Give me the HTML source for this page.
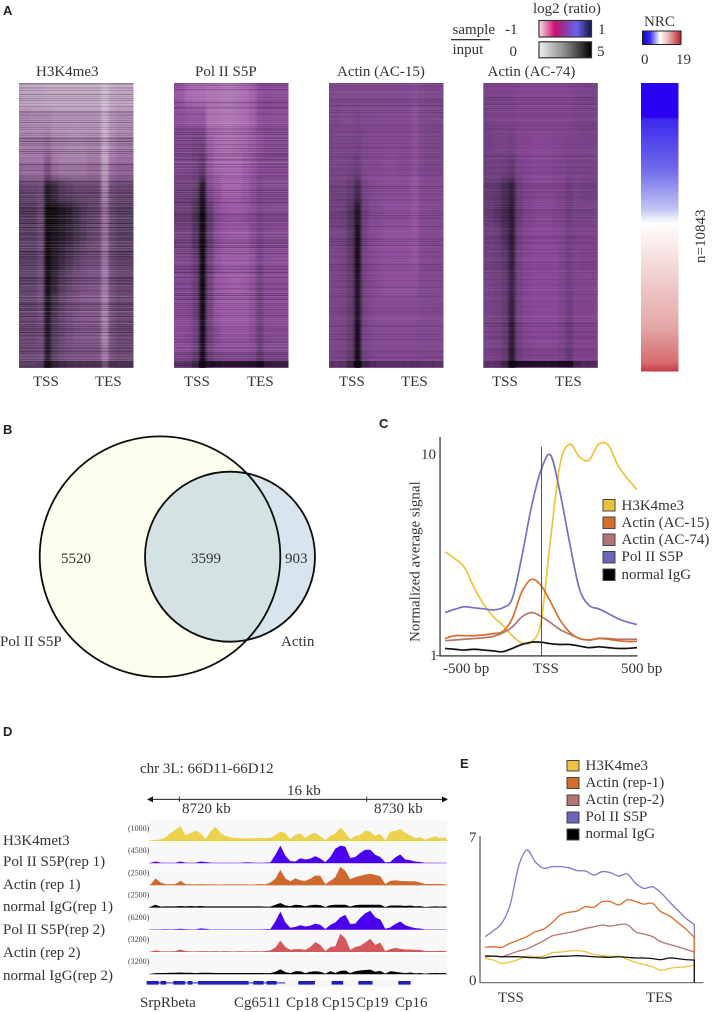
<!DOCTYPE html>
<html lang="en">
<head>
<meta charset="utf-8">
<title>Actin and Pol II genomic profiles</title>
<style>
html,body{margin:0;padding:0;background:#fff;}
svg{display:block;}
text{font-family:"Liberation Serif",serif;font-size:15px;fill:#333;}
.panel{font-family:"Liberation Sans",sans-serif;font-weight:bold;font-size:13px;fill:#222;}
.rng{font-size:8px;fill:#444;}
</style>
</head>
<body>
<svg id="fig" xmlns="http://www.w3.org/2000/svg" width="714" height="1012" viewBox="0 0 714 1012">
<defs>
<filter id="hmBlur" x="-20" y="-20" width="160" height="330" filterUnits="userSpaceOnUse"><feGaussianBlur stdDeviation="1.4 4"/></filter>
<clipPath id="hmClip"><rect x="0" y="0" width="114.5" height="285"/></clipPath>
<linearGradient id="ratioGrad"><stop offset="0" stop-color="#f6e0ee"/><stop offset=".3" stop-color="#cc1170"/><stop offset=".5" stop-color="#8a3aa0"/><stop offset=".72" stop-color="#6a62ee"/><stop offset="1" stop-color="#14143c"/></linearGradient>
<linearGradient id="inputGrad"><stop offset="0" stop-color="#f0f0f0"/><stop offset=".5" stop-color="#888"/><stop offset="1" stop-color="#000"/></linearGradient>
<linearGradient id="nrcSmall"><stop offset="0" stop-color="#1400d8"/><stop offset=".2" stop-color="#3a30e8"/><stop offset=".45" stop-color="#fff"/><stop offset=".7" stop-color="#e8aaaa"/><stop offset="1" stop-color="#c01a22"/></linearGradient>
<linearGradient id="nrcBig" x1="0" y1="0" x2="0" y2="1"><stop offset="0" stop-color="#2a00f2"/><stop offset=".118" stop-color="#2a00f2"/><stop offset=".125" stop-color="#3c28ee"/><stop offset=".3" stop-color="#6f6bea"/><stop offset=".44" stop-color="#c4c6f4"/><stop offset=".47" stop-color="#eceefc"/><stop offset=".49" stop-color="#fff"/><stop offset=".51" stop-color="#fdf8f6"/><stop offset=".66" stop-color="#f1d2d2"/><stop offset=".85" stop-color="#e4a6a6"/><stop offset=".97" stop-color="#d56a6e"/><stop offset="1" stop-color="#c63a44"/></linearGradient>
</defs>

<!-- PANEL A -->
<text class="panel" x="3" y="15">A</text>
<g>
<text x="36" y="76">H3K4me3</text>
<text x="195" y="76">Pol II S5P</text>
<text x="337" y="76">Actin (AC-15)</text>
<text x="487.5" y="76">Actin (AC-74)</text>
</g>
<g id="heatmaps"></g>
<g>
<text x="33" y="386">TSS</text><text x="95" y="386">TES</text>
<text x="184" y="386">TSS</text><text x="247" y="386">TES</text>
<text x="339" y="386">TSS</text><text x="401" y="386">TES</text>
<text x="492" y="386">TSS</text><text x="555" y="386">TES</text>
</g>
<g>
<text x="533" y="13">log2 (ratio)</text>
<text x="452.5" y="34">sample</text>
<rect x="451" y="39" width="39" height="1.3" fill="#333"/>
<text x="452.5" y="54">input</text>
<text x="505" y="34">-1</text>
<text x="509.5" y="56">0</text>
<text x="598" y="34">1</text>
<text x="597" y="56">5</text>
<rect x="539" y="20.5" width="52.5" height="16.5" fill="url(#ratioGrad)" stroke="#333" stroke-width="1.2"/>
<rect x="539" y="41.8" width="52.5" height="16" fill="url(#inputGrad)" stroke="#333" stroke-width="1.2"/>
</g>
<g>
<text x="644" y="26">NRC</text>
<rect x="642.5" y="31" width="38.5" height="13.5" fill="url(#nrcSmall)" stroke="#222" stroke-width="1"/>
<text x="641" y="64">0</text>
<text x="676" y="64">19</text>
<rect x="641" y="83" width="37.5" height="288.5" fill="url(#nrcBig)"/>
<text transform="translate(705,263) rotate(-90)" x="0" y="0">n=10843</text>
</g>

<!-- PANEL B -->
<text class="panel" x="3" y="434">B</text>
<g>
<circle cx="160" cy="556.7" r="120.3" fill="#fefeee"/>
<circle cx="230" cy="556.7" r="85" fill="#d8e4ee"/>
<path d="M246.8 473.4 A120.3 120.3 0 0 1 246.8 640 A85 85 0 1 1 246.8 473.4 Z" fill="#d5e2e3"/>
<circle cx="160" cy="556.7" r="120.3" fill="none" stroke="#0c0c0c" stroke-width="1.8"/>
<circle cx="230" cy="556.7" r="85" fill="none" stroke="#0c0c0c" stroke-width="1.8"/>
<text x="61" y="563">5520</text>
<text x="191" y="563">3599</text>
<text x="285" y="563">903</text>
<text x="0" y="646">Pol II S5P</text>
<text x="281" y="646">Actin</text>
</g>

<!-- PANEL C -->
<text class="panel" x="379" y="428">C</text>
<g id="chartC">
<rect x="439.3" y="437" width="1.5" height="219.5" fill="#555"/>
<rect x="440" y="655.2" width="197.5" height="1.4" fill="#444"/>
<rect x="436" y="655.2" width="4" height="1" fill="#555"/>
<text transform="translate(419.5,642) rotate(-90)" x="0" y="0">Normalized average signal</text>
<text x="421" y="459">10</text>
<text x="430" y="660">1</text>
<text x="443" y="673">-500 bp</text>
<text x="533" y="673">TSS</text>
<text x="621" y="673">500 bp</text>
</g>
<g>
<rect x="603" y="499.5" width="12" height="11.5" fill="#eac43f" stroke="#444"/><text x="621.5" y="510">H3K4me3</text>
<rect x="603" y="517" width="12" height="11.5" fill="#d66d2b" stroke="#444"/><text x="621.5" y="527">Actin (AC-15)</text>
<rect x="603" y="534" width="12" height="11.5" fill="#b27570" stroke="#444"/><text x="621.5" y="544">Actin (AC-74)</text>
<rect x="603" y="551.5" width="12" height="11.5" fill="#6a66bc" stroke="#444"/><text x="621.5" y="561">Pol II S5P</text>
<rect x="603" y="569" width="12" height="11.5" fill="#000" stroke="#444"/><text x="621.5" y="579">normal IgG</text>
</g>

<!-- PANEL D -->
<text class="panel" x="3" y="736">D</text>
<g id="tracks">
<text x="140" y="773">chr 3L: 66D11-66D12</text>
<text x="287" y="795">16 kb</text>
<text x="182" y="813">8720 kb</text>
<text x="374" y="813">8730 kb</text>
<line x1="150" y1="799.4" x2="445" y2="799.4" stroke="#222"/>
<path d="M147 799.4l6-3v6z" fill="#111"/>
<path d="M448 799.4l-6-3v6z" fill="#111"/>
<line x1="179.3" y1="796.5" x2="179.3" y2="802" stroke="#333"/>
<line x1="366.7" y1="796.5" x2="366.7" y2="802" stroke="#333"/>
<text x="3" y="845">H3K4met3</text>
<text x="3" y="866">Pol II S5P(rep 1)</text>
<text x="3" y="889">Actin (rep 1)</text>
<text x="3" y="911">normal IgG(rep 1)</text>
<text x="3" y="934">Pol II S5P(rep 2)</text>
<text x="3" y="957">Actin (rep 2)</text>
<text x="3" y="980">normal IgG(rep 2)</text>
<text x="140" y="1007">SrpRbeta</text>
<text x="234" y="1007">Cg6511</text>
<text x="286" y="1007">Cp18</text>
<text x="322" y="1007">Cp15</text>
<text x="356" y="1007">Cp19</text>
<text x="395" y="1007">Cp16</text>
</g>

<!-- PANEL E -->
<text class="panel" x="460" y="768">E</text>
<g>
<rect x="567" y="760.5" width="12" height="10.5" fill="#eac43f" stroke="#444"/><text x="585.5" y="770">H3K4me3</text>
<rect x="567" y="777.5" width="12" height="11" fill="#d66d2b" stroke="#444"/><text x="585.5" y="787">Actin (rep-1)</text>
<rect x="567" y="795" width="12" height="10.5" fill="#b27570" stroke="#444"/><text x="585.5" y="804">Actin (rep-2)</text>
<rect x="567" y="812" width="12" height="11" fill="#6a66bc" stroke="#444"/><text x="585.5" y="821">Pol II S5P</text>
<rect x="567" y="829" width="12" height="11" fill="#000" stroke="#444"/><text x="585.5" y="838">normal IgG</text>
</g>
<g id="chartE">
<rect x="479.5" y="836" width="1" height="147" fill="#333"/>
<rect x="479.5" y="982.2" width="224" height="1" fill="#555"/>
<text x="469" y="842">7</text>
<text x="469" y="985">0</text>
<text x="498" y="1002">TSS</text>
<text x="646" y="1002">TES</text>
</g>
</svg>

<script>
var NS = 'http://www.w3.org/2000/svg';

/* ---------- Panel A heatmap data: darkness 0-100, 12 row bands x 16 position bins ---------- */
var heatH3K4me3 = [
[22,20,20,20,18,18,18,18,18,18,18,18,12,18,20,20],
[30,30,28,28,28,25,25,25,25,25,25,25,15,25,28,28],
[35,35,35,35,38,32,32,30,30,30,32,32,18,30,35,35],
[40,38,38,38,50,38,35,35,35,35,38,38,22,38,42,42],
[62,60,60,55,85,78,70,65,60,60,58,58,30,55,60,60],
[72,72,72,62,98,95,90,85,78,72,68,65,40,62,70,70],
[68,68,68,58,95,90,85,80,75,70,62,60,38,60,68,68],
[68,68,68,58,95,85,78,72,65,60,55,55,36,58,65,65],
[65,65,65,55,92,80,70,62,56,52,50,50,34,55,62,62],
[62,62,62,55,90,72,62,55,50,48,48,48,32,52,60,60],
[60,60,60,55,85,68,58,52,48,48,48,48,30,52,60,60],
[60,60,60,56,86,66,58,54,52,52,52,52,36,54,60,60]];
var heatPolII = [
[48,46,40,38,38,36,36,34,34,36,38,42,50,52,50,50],
[50,50,48,48,48,36,36,34,34,36,38,42,50,52,50,50],
[55,55,55,58,60,42,38,36,36,38,40,44,48,52,52,52],
[55,55,55,58,68,45,40,38,38,38,42,46,52,52,52,52],
[62,62,62,68,90,55,48,42,42,42,45,50,58,55,55,55],
[65,65,65,75,98,70,52,48,46,46,48,52,58,55,55,55],
[60,60,60,72,98,68,50,46,45,45,45,50,58,52,52,52],
[56,56,56,66,98,62,48,44,44,44,44,48,58,50,50,50],
[54,54,54,64,97,60,46,44,42,42,44,48,60,50,50,50],
[52,52,54,64,95,60,46,44,44,44,44,48,60,50,50,50],
[50,50,52,62,92,62,50,46,46,46,46,50,64,52,52,52],
[52,52,54,64,92,62,52,50,50,50,50,52,66,54,54,54]];
var heatAC15 = [
[57,55,55,55,55,55,55,55,55,55,55,55,51,55,57,57],
[57,57,55,55,57,55,55,53,53,53,55,53,49,55,57,57],
[59,57,57,57,59,55,53,53,53,53,53,53,49,55,57,57],
[59,57,57,59,63,55,53,53,51,51,53,53,49,55,57,57],
[61,61,61,67,77,59,55,53,51,51,51,51,47,53,55,55],
[63,63,65,73,90,63,55,53,51,51,51,51,47,53,55,55],
[59,59,61,71,93,61,53,51,49,49,49,49,47,53,55,55],
[57,57,59,69,93,59,53,51,49,49,49,49,47,53,55,55],
[57,57,59,67,90,59,53,51,49,49,49,49,49,53,55,55],
[57,57,59,67,90,59,53,51,51,51,51,51,51,53,55,55],
[57,57,59,67,93,59,55,53,53,53,53,53,53,55,55,55],
[57,57,59,68,94,60,55,53,53,53,53,53,53,55,55,55]];
var heatAC74 = [
[60,60,58,58,58,56,56,56,56,56,56,56,56,58,60,60],
[62,60,58,58,58,56,56,56,56,56,56,56,56,58,60,60],
[62,62,60,60,62,56,56,54,54,54,56,56,58,58,60,60],
[64,62,62,64,68,58,56,54,54,54,56,56,60,58,60,60],
[68,68,70,76,82,64,58,56,54,54,56,58,64,60,62,62],
[68,68,72,78,85,66,58,56,54,54,56,58,64,60,60,60],
[64,64,66,74,84,62,56,54,52,52,54,56,62,58,58,58],
[62,62,64,70,82,60,54,52,52,52,52,56,62,56,58,58],
[60,60,62,68,80,60,54,52,52,52,52,56,62,56,56,56],
[60,60,62,68,82,60,54,52,52,52,52,56,64,56,56,56],
[60,60,62,68,84,62,56,54,54,54,54,58,66,58,58,58],
[60,60,62,68,86,64,58,56,56,56,56,60,68,58,58,58]];
/* bottom strip of each heatmap: darkness-strength 0-100 per position bin */
var edgeH3K4me3 = [20,20,20,30,60,55,50,45,45,45,45,45,35,45,40,40];
var edgePolII = [35,35,35,50,80,80,78,76,76,76,78,80,85,65,60,60];
var edgeAC15 = [25,25,25,40,80,50,40,35,35,35,35,35,35,30,30,30];
var edgeAC74 = [25,25,25,40,85,85,82,80,80,80,82,84,85,50,40,40];
/* row-to-row streak signal (per gene band) */
var streakPattern = [-6,3,-2,7,-9,1,4,-3,8,-5,2,-8,5,-1,6,-7,3,-4,9,-2,-6,4,1,-9,7,-3,2,5,-7,-1,8,-4,3,-6,2];

/* ---------- Panel C data: normalized signal on a shared bp grid ---------- */
var cPositions = [-500,-450,-400,-350,-300,-250,-200,-150,-100,-50,0,50,100,150,200,250,300,350,400,450,500];
var cH3K4me3 = [3.27,3.03,2.75,2.19,1.81,1.57,1.42,1.26,1.16,1.17,1.47,3.80,8.92,11.1,9.62,9.27,11.1,11.0,8.76,7.52,6.64];
var cPolII = [1.64,1.70,1.75,1.73,1.71,1.69,1.73,1.92,3.09,5.45,8.27,9.81,6.34,3.59,2.15,1.78,1.71,1.62,1.53,1.47,1.43];
var cAC15 = [1.22,1.26,1.26,1.26,1.27,1.29,1.32,1.53,2.07,2.39,2.23,1.85,1.50,1.31,1.22,1.20,1.22,1.21,1.19,1.18,1.18];
var cAC74 = [1.19,1.20,1.21,1.22,1.23,1.25,1.30,1.39,1.56,1.64,1.57,1.46,1.35,1.28,1.22,1.20,1.22,1.22,1.21,1.21,1.21];
var cIgG = [1.09,1.08,1.07,1.08,1.07,1.06,1.05,1.09,1.14,1.17,1.17,1.15,1.14,1.14,1.12,1.10,1.11,1.10,1.09,1.09,1.10];

/* ---------- Panel E data: signal along scaled gene body (percent position) ---------- */
var ePositions = [0,4,8,12,16,20,24,28,32,36,40,44,48,52,56,60,64,68,72,76,80,84,88,92,96,100];
var ePolII = [2.20,2.48,2.83,3.71,5.54,6.33,5.77,5.46,5.54,5.54,5.49,5.35,5.33,5.14,5.30,5.25,5.09,5.19,4.74,4.50,4.58,4.30,3.87,3.47,3.07,2.78];
var eActin1 = [1.69,1.72,1.69,1.88,2.04,2.20,2.43,2.56,2.86,3.23,3.36,3.42,3.63,3.60,3.87,3.87,3.71,3.96,3.87,3.75,3.79,3.39,3.20,2.88,2.56,2.16];
var eActin2 = [1.24,1.27,1.24,1.37,1.51,1.61,1.80,2.00,2.23,2.32,2.39,2.48,2.59,2.67,2.75,2.70,2.77,2.77,2.43,2.32,2.20,1.96,1.83,1.72,1.59,1.46];
var eH3K4me3 = [1.16,1.08,0.92,0.99,1.11,1.27,1.24,1.27,1.43,1.46,1.51,1.53,1.48,1.35,1.29,1.26,1.26,1.11,0.97,0.87,0.76,0.59,0.68,0.73,0.76,0.84];
var eIgG = [1.27,1.27,1.24,1.24,1.24,1.21,1.19,1.18,1.24,1.26,1.27,1.29,1.27,1.24,1.22,1.21,1.24,1.21,1.18,1.18,1.15,1.10,1.18,1.15,1.10,1.08];

/* ---------- Panel D data: coverage as percent of track range, 60 bins ---------- */
var trackRanges = ['(1000)','(4500)','(2500)','(2500)','(6200)','(3200)','(3200)'];
var covH3K4 = [3,5,8,18,38,55,72,28,38,50,38,10,45,68,40,25,18,14,14,12,13,14,16,14,16,28,45,38,10,30,36,14,32,40,22,5,26,35,65,40,8,25,30,50,45,25,35,3,45,48,58,40,28,14,18,6,16,22,14,18];
var covPol1 = [2,8,3,2,2,2,8,3,2,2,8,6,3,2,2,2,2,2,2,4,4,2,2,3,4,40,85,36,10,8,24,18,22,34,22,5,30,70,85,80,25,30,50,65,65,40,30,4,6,28,42,18,14,8,6,2,2,2,2,2];
var covActin1 = [4,34,14,6,5,6,22,6,5,5,6,5,5,5,4,5,5,5,5,5,4,5,6,5,14,32,75,34,20,34,24,22,32,48,46,6,22,40,90,70,30,40,46,52,56,50,44,6,22,24,22,20,20,20,14,6,7,6,7,5];
var covIgG1 = [4,14,5,6,6,6,8,6,8,6,8,6,6,6,6,6,6,6,6,6,6,6,6,5,5,14,22,10,7,14,12,6,12,14,12,3,12,14,14,14,5,12,14,14,14,14,14,3,10,10,10,8,10,6,7,3,5,6,5,6];
var covPol2 = [2,2,2,3,2,3,5,3,2,2,7,5,2,2,2,2,2,2,2,2,2,2,2,3,4,40,88,36,10,14,22,16,20,30,24,4,24,36,60,72,28,30,58,80,92,60,50,5,12,28,40,22,14,8,6,2,2,2,2,2];
var covActin2 = [2,8,3,3,3,4,12,4,3,3,4,4,3,4,3,4,3,3,4,3,3,4,3,4,8,22,55,24,10,14,14,10,24,48,34,5,24,28,88,66,10,24,30,46,64,34,46,4,14,20,16,12,12,10,10,4,5,4,6,5];
var covIgG2 = [2,5,6,6,7,7,8,7,7,5,7,7,7,6,6,6,6,6,6,6,6,6,6,5,5,12,24,10,5,14,14,5,12,14,12,3,14,6,16,18,5,14,18,20,22,12,16,3,14,12,8,5,8,4,6,3,5,6,5,6];
/* gene model exons in kb */
var exonStarts = [8718.26,8719.0,8719.68,8720.45,8721.0,8723.95,8724.66,8726.35,8728.13,8729.56,8731.69];
var exonEnds = [8718.9,8719.3,8720.3,8720.7,8723.7,8724.5,8725.2,8727.24,8728.75,8730.32,8732.35];

/* ---------- helpers ---------- */
function make(tag, parent) {
  var el = document.createElementNS(NS, tag);
  parent.appendChild(el);
  return el;
}
function smoothPath(pts) {
  var d = 'M' + pts[0][0].toFixed(2) + ' ' + pts[0][1].toFixed(2);
  for (var i = 0; i < pts.length - 1; i++) {
    var p0 = pts[Math.max(i - 1, 0)], p1 = pts[i], p2 = pts[i + 1], p3 = pts[Math.min(i + 2, pts.length - 1)];
    var c1x = p1[0] + (p2[0] - p0[0]) / 6, c1y = p1[1] + (p2[1] - p0[1]) / 6;
    var c2x = p2[0] - (p3[0] - p1[0]) / 6, c2y = p2[1] - (p3[1] - p1[1]) / 6;
    d += 'C' + c1x.toFixed(2) + ' ' + c1y.toFixed(2) + ' ' + c2x.toFixed(2) + ' ' + c2y.toFixed(2) + ' ' + p2[0].toFixed(2) + ' ' + p2[1].toFixed(2);
  }
  return d;
}
var rampStops = [[0,239,230,239],[20,200,162,204],[42,163,95,171],[50,140,77,154],[70,95,58,108],[85,46,28,52],[100,10,5,12]];
function rampColor(v) {
  v = Math.max(0, Math.min(100, v));
  for (var i = 0; i < rampStops.length - 1; i++) {
    var a = rampStops[i], b = rampStops[i + 1];
    if (v <= b[0]) {
      var t = (v - a[0]) / (b[0] - a[0]);
      return 'rgb(' + Math.round(a[1] + (b[1] - a[1]) * t) + ',' + Math.round(a[2] + (b[2] - a[2]) * t) + ',' + Math.round(a[3] + (b[3] - a[3]) * t) + ')';
    }
  }
  return 'rgb(10,5,12)';
}

/* ---------- heatmaps ---------- */
function drawHeatmap(grid, edge, left, streakStrength, saturation, offset, label) {
  var root = document.getElementById('heatmaps');
  var outer = make('g', root);
  
  
  outer.setAttribute('transform', 'translate(' + left + ',83)');
  outer.setAttribute('clip-path', 'url(#hmClip)');
  outer.setAttribute('style', 'filter:saturate(' + saturation + ')');
  var blurred = make('g', outer);
  
  
  blurred.setAttribute('filter', 'url(#hmBlur)');
  var colStep = 114.5 / 16, rowStep = 285 / grid.length;
  grid.forEach(function (row, r) {
    row.forEach(function (val, c) {
      var cell = make('rect', blurred);
      
      
      var x0 = (c - 0.5) * colStep, x1 = (c + 0.5) * colStep;
      if (c === 0) x0 -= 12;
      if (c === row.length - 1) x1 += 20;
      var y0 = r * rowStep, y1 = (r + 1) * rowStep;
      if (r === 0) y0 -= 16;
      if (r === grid.length - 1) y1 += 16;
      cell.setAttribute('x', x0);
      cell.setAttribute('y', y0);
      cell.setAttribute('width', x1 - x0 + 0.5);
      cell.setAttribute('height', y1 - y0 + 0.5);
      cell.setAttribute('fill', rampColor(val));
    });
  });
  for (var i = 0; i < 285; i++) {
    var n = streakPattern.length;
    var s = (streakPattern[(i + offset) % n] + streakPattern[(i * 4 + offset + Math.floor(i / n)) % n]) / 2;
    var line = make('rect', outer);
    
    
    line.setAttribute('x', 0);
    line.setAttribute('y', i);
    line.setAttribute('width', 114.5);
    line.setAttribute('height', 1);
    line.setAttribute('fill', s < 0 ? '#000' : '#fff');
    line.setAttribute('opacity', (Math.abs(s) * streakStrength * (s < 0 ? 1 : 0.45)).toFixed(3));
  }
  edge.forEach(function (val, c) {
    var e = make('rect', outer);
    
    
    e.setAttribute('x', (c - 0.5) * colStep);
    e.setAttribute('y', 278);
    e.setAttribute('width', colStep + (c === edge.length - 1 ? 12 : 0.3));
    e.setAttribute('height', 6);
    e.setAttribute('fill', '#0a050c');
    e.setAttribute('opacity', (val / 100).toFixed(2));
  });
}
drawHeatmap(heatH3K4me3, edgeH3K4me3, 19, 0.04, 0.68, 0, 'heatmap-h3k4me3');
drawHeatmap(heatPolII, edgePolII, 174, 0.03, 1, 9, 'heatmap-pol-ii');
drawHeatmap(heatAC15, edgeAC15, 329, 0.018, 1, 17, 'heatmap-ac15');
drawHeatmap(heatAC74, edgeAC74, 483.3, 0.016, 1.1, 25, 'heatmap-ac74');

/* ---------- Panel C lines ---------- */
function cx(bp) { return 541 + bp * 0.192; }
function cy(v) { return 656 - Math.log(v) / Math.LN10 * 202.5; }
function drawC(values, color, name) {
  var chart = document.getElementById('chartC');
  var pts = values.map(function (v, i) { return [cx(cPositions[i]), cy(v)]; });
  var p = make('path', chart);
  
  
  p.setAttribute('d', smoothPath(pts));
  p.setAttribute('fill', 'none');
  p.setAttribute('stroke', color);
  p.setAttribute('stroke-width', '1.7');
}
drawC(cH3K4me3, '#eac43f', 'c-line-h3k4me3');
drawC(cPolII, '#7470c4', 'c-line-pol-ii');
drawC(cAC74, '#b27570', 'c-line-ac74');
drawC(cAC15, '#d66d2b', 'c-line-ac15');
drawC(cIgG, '#111', 'c-line-igg');
var tssLine = make('rect', document.getElementById('chartC'));


tssLine.setAttribute('x', 541);
tssLine.setAttribute('y', 446.7);
tssLine.setAttribute('width', 0.9);
tssLine.setAttribute('height', 209);
tssLine.setAttribute('fill', '#444');

/* ---------- Panel E lines ---------- */
function ex(p) { return 485 + p * 2.093; }
function ey(v) { return 982.7 - v * 20.95; }
function drawE(values, color, name) {
  var chart = document.getElementById('chartE');
  var pts = values.map(function (v, i) { return [ex(ePositions[i]), ey(v)]; });
  var p = make('path', chart);
  
  
  p.setAttribute('d', smoothPath(pts) + 'L' + pts[pts.length - 1][0].toFixed(2) + ' ' + ey(0));
  p.setAttribute('fill', 'none');
  p.setAttribute('stroke', color);
  p.setAttribute('stroke-width', '1.3');
}
drawE(ePolII, '#7c78cc', 'e-line-pol-ii');
drawE(eActin1, '#d66d2b', 'e-line-actin-rep1');
drawE(eActin2, '#b27570', 'e-line-actin-rep2');
drawE(eH3K4me3, '#eac43f', 'e-line-h3k4me3');
drawE(eIgG, '#111', 'e-line-igg');

/* ---------- Panel D tracks ---------- */
var trackRoot = document.getElementById('tracks');
function tx(kb) { return 179.3 + (kb - 8720) * 18.73; }
var trackStartKb = 8718.33;
var binKb = 16 / 60;
function trackBase(i) { return 841 + i * 22.2; }
function th(pct) { return pct / 100 * 20.7; }
function drawTrack(values, i, color, name) {
  var bg = make('rect', trackRoot);
  
  
  bg.setAttribute('x', 148);
  bg.setAttribute('y', trackBase(i) - 21);
  bg.setAttribute('width', 299);
  bg.setAttribute('height', 21);
  bg.setAttribute('fill', '#f8f8f8');
  var base = trackBase(i);
  var d = 'M' + tx(trackStartKb) + ' ' + base;
  values.forEach(function (v, b) {
    d += 'L' + tx(trackStartKb + (b + 0.5) * binKb).toFixed(2) + ' ' + (base - th(v)).toFixed(2);
  });
  d += 'L' + tx(trackStartKb + 16).toFixed(2) + ' ' + base + 'Z';
  var area = make('path', trackRoot);
  
  
  area.setAttribute('d', d);
  area.setAttribute('fill', color);
  var lab = make('text', trackRoot);
  
  
  lab.setAttribute('class', 'rng');
  lab.setAttribute('x', 128);
  lab.setAttribute('y', base - 10);
  lab.textContent = trackRanges[i];
}
drawTrack(covH3K4, 0, '#ecd24d', 'track-h3k4met3');
drawTrack(covPol1, 1, '#4a00ee', 'track-pol-rep1');
drawTrack(covActin1, 2, '#cf682f', 'track-actin-rep1');
drawTrack(covIgG1, 3, '#000', 'track-igg-rep1');
drawTrack(covPol2, 4, '#4a00ee', 'track-pol-rep2');
drawTrack(covActin2, 5, '#d2585c', 'track-actin-rep2');
drawTrack(covIgG2, 6, '#000', 'track-igg-rep2');

var geneBg = make('rect', trackRoot);


geneBg.setAttribute('x', 147);
geneBg.setAttribute('y', 980);
geneBg.setAttribute('width', 266);
geneBg.setAttribute('height', 7);
geneBg.setAttribute('fill', '#f8f8f8');
var intron = make('rect', trackRoot);


intron.setAttribute('x', tx(8718.26));
intron.setAttribute('y', 982.4);
intron.setAttribute('width', tx(8725.65) - tx(8718.26));
intron.setAttribute('height', 1);
intron.setAttribute('fill', '#2222b0');
exonStarts.forEach(function (s, i) {
  var ex1 = make('rect', trackRoot);
  
  
  ex1.setAttribute('x', tx(s));
  ex1.setAttribute('y', 981);
  ex1.setAttribute('width', tx(exonEnds[i]) - tx(s));
  ex1.setAttribute('height', 3.6);
  ex1.setAttribute('fill', '#2020b4');
});
</script>
</body>
</html>
